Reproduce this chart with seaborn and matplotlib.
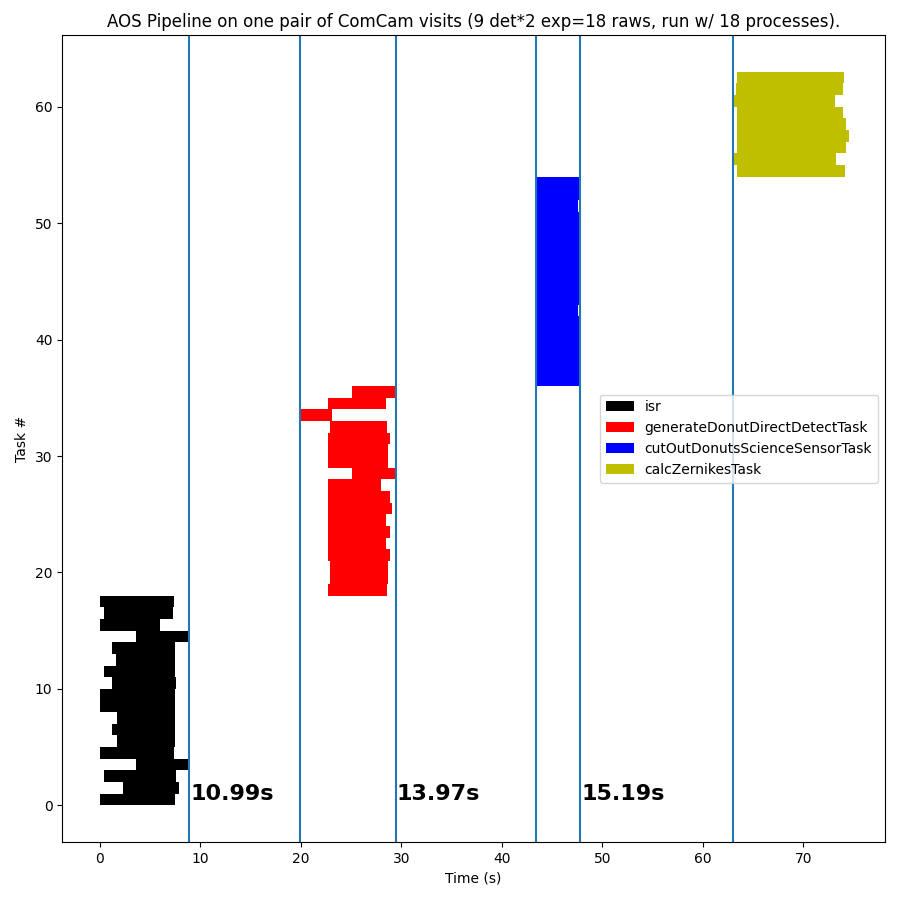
import matplotlib
matplotlib.use("Agg")
import matplotlib.pyplot as plt
import numpy as np
import pandas as pd
import seaborn as sns

# ---- data ----
step_names = ["isr", "generateDonutDirectDetectTask",
              "cutOutDonutsScienceSensorTask", "calcZernikesTask"]
step_colors = ["black", "red", "blue", "y"]

isr_tasks = list(range(0, 18))
isr_start = [0.00, 2.35, 0.47, 3.60, 0.00, 1.78, 1.29, 1.69, 0.00,
             0.00, 1.29, 0.47, 1.62, 1.29, 3.60, 0.00, 0.47, 0.00]
isr_end = [7.55, 7.92, 7.58, 8.94, 7.45, 7.55, 7.55, 7.55, 7.52,
           7.50, 7.58, 7.52, 7.52, 7.52, 8.90, 6.02, 7.35, 7.45]

gen_tasks = list(range(18, 36))
gen_start = [22.77, 22.90, 22.90, 22.77, 22.77, 22.77, 22.77, 22.77, 22.77,
             22.77, 25.08, 22.77, 22.77, 22.77, 22.90, 19.93, 22.77, 25.08]
gen_end = [28.62, 28.72, 28.65, 28.85, 28.45, 28.85, 28.45, 29.05, 28.85,
           27.96, 29.45, 28.72, 28.72, 28.85, 28.62, 23.10, 28.45, 29.40]

cut_tasks = list(range(36, 54))
cut_start = [43.42] * 18
cut_end = [47.70, 47.70, 47.79, 47.79, 47.70, 47.70, 47.60, 47.70, 47.70,
           47.70, 47.70, 47.79, 47.79, 47.70, 47.70, 47.60, 47.70, 47.70]

zer_tasks = list(range(54, 63))
zer_start = [63.42, 62.98, 63.42, 63.42, 63.42, 63.42, 62.98, 63.32, 63.42]
zer_end = [74.18, 73.28, 74.28, 74.52, 74.28, 73.95, 73.18, 73.95, 74.05]

title = ("AOS Pipeline on one pair of ComCam visits "
         "(9 det*2 exp=18 raws, run w/ 18 processes).")

steps = [
    (isr_tasks, isr_start, isr_end),
    (gen_tasks, gen_start, gen_end),
    (cut_tasks, cut_start, cut_end),
    (zer_tasks, zer_start, zer_end),
]

# ---- plot ----
fig = plt.figure(figsize=(9, 9), dpi=100)
ax = fig.add_subplot(111)
fig.subplots_adjust(left=0.069, right=0.983, bottom=0.0644, top=0.961)

for name, color, (tasks, starts, ends) in zip(step_names, step_colors, steps):
    df = pd.DataFrame({"task": tasks, "start": starts, "end": ends})
    df["ypos"] = df["task"] + 0.5
    n_before = len(ax.patches)
    sns.barplot(data=df, x="end", y="ypos", orient="h", native_scale=True,
                width=1.0, color=color, saturation=1, errorbar=None,
                linewidth=0, label=name, ax=ax)
    lookup = dict(zip(df["task"], zip(df["start"], df["end"])))
    for p in ax.patches[n_before:]:
        yc = p.get_y() + p.get_height() / 2
        t = int(round(yc - 0.5))
        s, e = lookup[t]
        p.set_x(s)
        p.set_width(e - s)

ax.use_sticky_edges = False

# boundaries between steps
ends_max = [max(e) for _, _, e in steps]
starts_min = [min(s) for _, s, _ in steps]
for i in range(3):
    a = ends_max[i]
    b = starts_min[i + 1]
    ax.axvline(a)
    ax.axvline(b)
    ax.text(a + 0.12, 0.1, f"{b - a:.2f}s", fontsize=16, fontweight="bold",
            ha="left", va="bottom")

ax.set_xlim(-3.72, 78.08)
ax.set_ylim(-3.15, 66.15)
ax.set_xlabel("Time (s)")
ax.set_ylabel("Task #")
ax.set_title(title)
ax.legend(loc="center right")

fig.savefig("out.png", dpi=100)
